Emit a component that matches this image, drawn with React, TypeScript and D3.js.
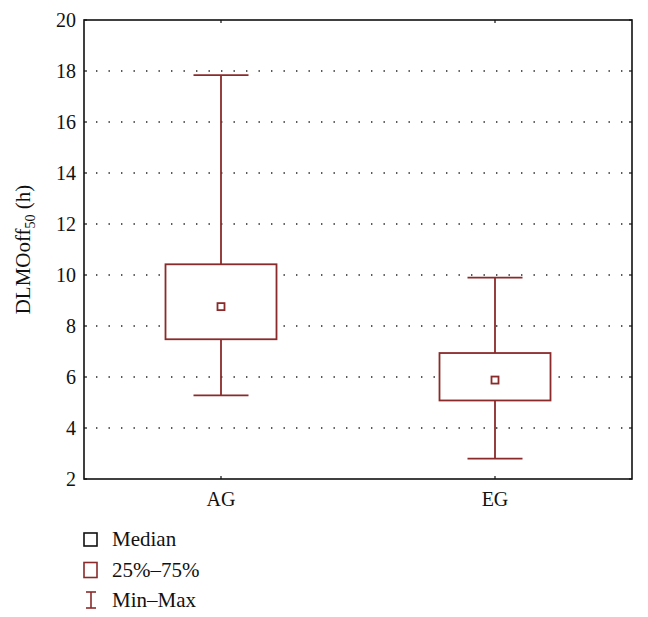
import React from 'react';
import * as d3 from 'd3';

// chart data
const groups = ['AG', 'EG'];
const mins = [5.28, 2.8];
const q1s = [7.48, 5.08];
const medians = [8.76, 5.88];
const q3s = [10.42, 6.94];
const maxs = [17.84, 9.9];
const yTicks = [2, 4, 6, 8, 10, 12, 14, 16, 18, 20];
const legendItems = ['Median', '25%\u201375%', 'Min\u2013Max'];

const W = 648;
const H = 617;
const margin = { left: 84, right: 16, top: 20, bottom: 138 };
const RED = '#8a2a2a';
const FONT = '"Liberation Serif", "DejaVu Serif", serif';

const App: React.FC = () => {
  const x = d3.scalePoint<string>()
    .domain(groups)
    .range([margin.left, W - margin.right])
    .padding(0.5);

  const y = d3.scaleLinear()
    .domain([2, 20])
    .range([H - margin.bottom, margin.top]);

  const boxW = 111;
  const capW = 55;
  const x0 = margin.left;
  const x1 = W - margin.right;
  const yBot = y(2);
  const yTop = y(20);

  return (
    <svg width={W} height={H} style={{ position: 'absolute', left: 0, top: 0 }} fontFamily={FONT}>
      <rect width={W} height={H} fill="#fff" />
      {/* dotted grid */}
      {yTicks.filter(t => t > 2 && t < 20).map(t => (
        <line key={t} x1={x0 + 12} x2={x1} y1={y(t)} y2={y(t)}
          stroke="#222" strokeWidth={1.4} strokeDasharray="1.4,11.1" />
      ))}
      {/* frame */}
      <rect x={x0} y={yTop} width={x1 - x0} height={yBot - yTop} fill="none" stroke="#111" strokeWidth={1.6} />
      {/* y ticks */}
      {yTicks.map(t => (
        <g key={t}>
          <line x1={x0} x2={x0 + 3} y1={y(t)} y2={y(t)} stroke="#111" strokeWidth={1.2} />
          <line x1={x1} x2={x1 - 3} y1={y(t)} y2={y(t)} stroke="#111" strokeWidth={1.2} />
          <text x={x0 - 8} y={y(t)} dy="0.34em" textAnchor="end" fontSize={20} fill="#111">{t}</text>
        </g>
      ))}
      {/* x ticks & labels */}
      {groups.map(g => (
        <g key={g}>
          <line x1={x(g)!} x2={x(g)!} y1={yBot} y2={yBot - 3} stroke="#111" strokeWidth={1.2} />
          <line x1={x(g)!} x2={x(g)!} y1={yTop} y2={yTop + 3} stroke="#111" strokeWidth={1.2} />
          <text x={x(g)!} y={yBot + 27} textAnchor="middle" fontSize={20} fill="#111">{g}</text>
        </g>
      ))}
      {/* boxes */}
      {groups.map((g, i) => {
        const cx = x(g)!;
        return (
          <g key={g} stroke={RED} strokeWidth={1.8} fill="none">
            <line x1={cx} x2={cx} y1={y(maxs[i])} y2={y(q3s[i])} />
            <line x1={cx} x2={cx} y1={y(q1s[i])} y2={y(mins[i])} />
            <line x1={cx - capW / 2} x2={cx + capW / 2} y1={y(maxs[i])} y2={y(maxs[i])} />
            <line x1={cx - capW / 2} x2={cx + capW / 2} y1={y(mins[i])} y2={y(mins[i])} />
            <rect x={cx - boxW / 2} y={y(q3s[i])} width={boxW} height={y(q1s[i]) - y(q3s[i])} fill="#fff" />
            <rect x={cx - 3.5} y={y(medians[i]) - 3.5} width={7} height={7} fill="#fff" />
          </g>
        );
      })}
      {/* y label */}
      <text transform={`translate(30,${(yTop + yBot) / 2}) rotate(-90)`} textAnchor="middle" fontSize={21} fill="#111">
        DLMOoff<tspan fontSize={14} dy={5}>50</tspan><tspan dy={-5}> (h)</tspan>
      </text>
      {/* legend */}
      {legendItems.map((name, i) => {
        const ly = 539 + i * 30.5;
        return (
          <g key={name}>
            {i === 0 && <rect x={84} y={ly - 6} width={13} height={13} fill="none" stroke="#111" strokeWidth={1.6} />}
            {i === 1 && <rect x={84} y={ly - 7} width={13} height={15} fill="none" stroke={RED} strokeWidth={1.6} />}
            {i === 2 && (
              <g stroke={RED} strokeWidth={1.6}>
                <line x1={91} x2={91} y1={ly - 8} y2={ly + 8} />
                <line x1={86} x2={96} y1={ly - 8} y2={ly - 8} />
                <line x1={86} x2={96} y1={ly + 8} y2={ly + 8} />
              </g>
            )}
            <text x={112} y={ly} dy="0.34em" fontSize={21} fill="#111">{name}</text>
          </g>
        );
      })}
    </svg>
  );
};

export default App;
